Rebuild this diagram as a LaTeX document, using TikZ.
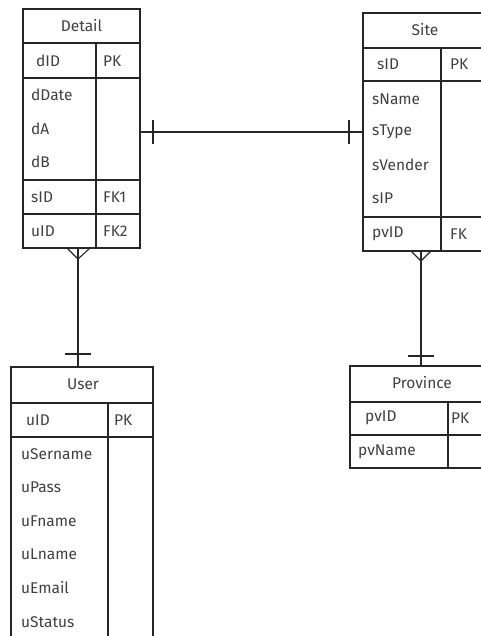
\documentclass[tikz,border=0pt]{standalone}
\usepackage{fontspec}
\setmainfont{Fira Sans}
\begin{document}
\begin{tikzpicture}[x=1pt,y=-1pt,
  ln/.style={draw=black!85, line width=1.1pt},
  tbl/.style={ln, rectangle, inner sep=0pt, outer sep=0pt, anchor=north west},
  txt/.style={text=black!75, font=\fontsize{15.5}{17}\selectfont, inner sep=0pt, anchor=west},
  ttl/.style={text=black!75, font=\fontsize{15.5}{17}\selectfont, inner sep=0pt}]
\useasboundingbox (0,0) rectangle (481,636);
\clip (0,0) rectangle (481,636);

% ---------- Detail ----------
\node[tbl, minimum width=117pt, minimum height=239pt] (detail) at (23,9) {};
\draw[ln] (23,43) -- (140,43);
\draw[ln] (23,78) -- (140,78);
\draw[ln] (23,180) -- (140,180);
\draw[ln] (23,214) -- (140,214);
\draw[ln] (96,43) -- (96,248);
\node[ttl] (dT) at (81.5,26) {Detail};
\node[txt] (d1) at (36,61) {dID};
\node[txt] (d1k) at (103,61) {PK};
\node[txt] (d2) at (31,95) {dDate};
\node[txt] (d3) at (31,129) {dA};
\node[txt] (d4) at (31,162) {dB};
\node[txt] (d5) at (31,197) {sID};
\node[txt] (d5k) at (103,197) {FK1};
\node[txt] (d6) at (31,231) {uID};
\node[txt] (d6k) at (103,231) {FK2};

% ---------- Site ----------
\node[tbl, minimum width=130pt, minimum height=238pt] (site) at (363,13) {};
\draw[ln] (363,48) -- (493,48);
\draw[ln] (363,81) -- (493,81);
\draw[ln] (363,217) -- (493,217);
\draw[ln] (441,48) -- (441,251);
\node[ttl] (sT) at (425,30) {Site};
\node[txt] (s1) at (377,64) {sID};
\node[txt] (s1k) at (450,64) {PK};
\node[txt] (s2) at (372,99) {sName};
\node[txt] (s3) at (372,132) {sType};
\node[txt] (s4) at (372,165) {sVender};
\node[txt] (s5) at (372,198) {sIP};
\node[txt] (s6) at (372,234) {pvID};
\node[txt] (s6k) at (450,234) {FK};

% ---------- User ----------
\node[tbl, minimum width=142pt, minimum height=290pt] (user) at (11,367) {};
\draw[ln] (11,403) -- (153,403);
\draw[ln] (11,437) -- (153,437);
\draw[ln] (108,403) -- (108,657);
\node[ttl] (uT) at (83,384) {User};
\node[txt] (u1) at (26,420) {uID};
\node[txt] (u1k) at (114,420) {PK};
\node[txt] (u2) at (21,454) {uSername};
\node[txt] (u3) at (21,487) {uPass};
\node[txt] (u4) at (21,521) {uFname};
\node[txt] (u5) at (21,554) {uLname};
\node[txt] (u6) at (21,588) {uEmail};
\node[txt] (u7) at (21,622) {uStatus};

% ---------- Province ----------
\node[tbl, minimum width=140pt, minimum height=102pt] (prov) at (350,366) {};
\draw[ln] (350,402) -- (490,402);
\draw[ln] (350,435) -- (490,435);
\draw[ln] (448,402) -- (448,468);
\node[ttl] (pT) at (422,383) {Province};
\node[txt] (p1) at (365,418) {pvID};
\node[txt] (p1k) at (451,418) {PK};
\node[txt] (p2) at (358,452) {pvName};

% ---------- Detail -- Site (one to one) ----------
\draw[ln] (site.west -| detail.east) -- (site.west);
\draw[ln] (153,120) -- (153,144);
\draw[ln] (349,120) -- (349,144);

% ---------- Detail -- User (many to one) ----------
\coordinate (dfoot) at (78,248);
\coordinate (uhead) at (78,367);
\coordinate (dtip) at (78,259);
\draw[ln] (dfoot) -- (uhead);
\draw[ln] (67,248) -- (dtip) -- (90,248);
\draw[ln] (65,354) -- (91,354);

% ---------- Site -- Province (many to one) ----------
\coordinate (sfoot) at (421,251);
\coordinate (phead) at (421,366);
\coordinate (stip) at (421,261);
\draw[ln] (sfoot) -- (phead);
\draw[ln] (411,251) -- (stip) -- (431,251);
\draw[ln] (408,356) -- (434,356);
\end{tikzpicture}
\end{document}
